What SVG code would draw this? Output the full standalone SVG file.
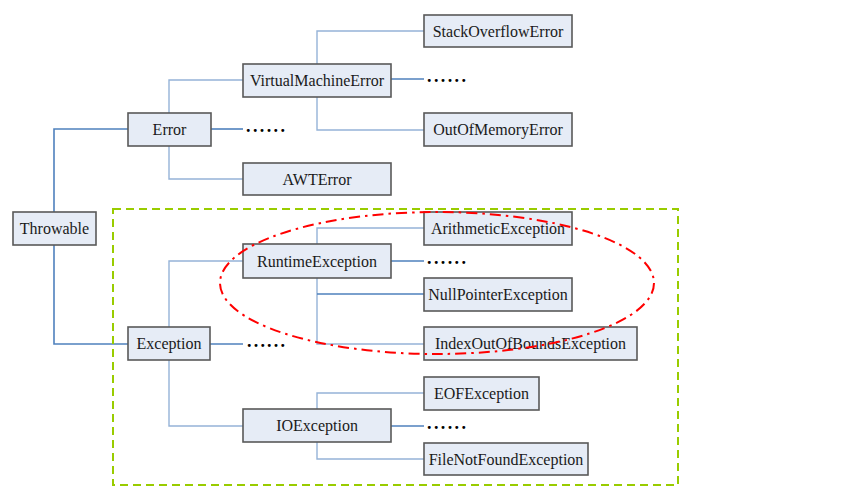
<svg xmlns="http://www.w3.org/2000/svg" width="842" height="490" viewBox="0 0 842 490">
<style>
.box{fill:#e6ecf6;stroke:#595959;stroke-width:1.6}
.t{font-family:"Liberation Serif","Times New Roman",serif;font-size:16px;fill:#1a1a1a;text-anchor:middle}
.d{font-family:"Liberation Serif","Times New Roman",serif;font-size:18px;font-weight:bold;fill:#000}
.lc{fill:none;stroke:#95b3d7;stroke-width:1.4}
.dc{fill:none;stroke:#4f81bd;stroke-width:1.6}
</style>
<rect width="842" height="490" fill="#fff"/>
<g id="connectors">
<path class="dc" d="M54,212 V129 H128 M54,245 V344 H128"/>
<path class="lc" d="M169,113 V80 H243 M169,146 V179 H243"/>
<path class="dc" d="M211,129 H243"/>
<path class="lc" d="M317,64 V31 H424 M317,97 V130 H424"/>
<path class="dc" d="M391,79 H424"/>
<path class="lc" d="M169,327 V261 H243 M169,360 V426 H243"/>
<path class="dc" d="M210,344 H243"/>
<path class="lc" d="M317,244 V228 H424 M317,278 V344 H424"/>
<path class="dc" d="M317,294 H424 M391,261 H424"/>
<path class="lc" d="M317,409 V393 H424 M317,442 V459 H424"/>
<path class="dc" d="M391,426 H424"/>
</g>
<g id="ellipsis-marks">
<text class="d" x="246" y="131.5" textLength="39" lengthAdjust="spacing">......</text>
<text class="d" x="427" y="81.5" textLength="39" lengthAdjust="spacing">......</text>
<text class="d" x="247" y="346.5" textLength="38" lengthAdjust="spacing">......</text>
<text class="d" x="427" y="263.5" textLength="39" lengthAdjust="spacing">......</text>
<text class="d" x="427" y="428.5" textLength="39" lengthAdjust="spacing">......</text>
</g>
<g id="Throwable"><rect class="box" x="13" y="212" width="83" height="33"/><text class="t" x="54.5" y="234">Throwable</text></g>
<g id="Error"><rect class="box" x="128" y="113" width="83" height="33"/><text class="t" x="169.5" y="135">Error</text></g>
<g id="VirtualMachineError"><rect class="box" x="243" y="64" width="148" height="33"/><text class="t" x="317" y="86">VirtualMachineError</text></g>
<g id="AWTError"><rect class="box" x="243" y="163" width="148" height="32"/><text class="t" x="317" y="185">AWTError</text></g>
<g id="StackOverflowError"><rect class="box" x="424" y="15" width="148" height="32"/><text class="t" x="498" y="37">StackOverflowError</text></g>
<g id="OutOfMemoryError"><rect class="box" x="424" y="113" width="148" height="33"/><text class="t" x="498" y="135">OutOfMemoryError</text></g>
<g id="Exception"><rect class="box" x="128" y="327" width="82" height="33"/><text class="t" x="169" y="349">Exception</text></g>
<g id="RuntimeException"><rect class="box" x="243" y="244" width="148" height="34"/><text class="t" x="317" y="266.5">RuntimeException</text></g>
<g id="IOException"><rect class="box" x="243" y="409" width="148" height="33"/><text class="t" x="317" y="431">IOException</text></g>
<g id="ArithmeticException"><rect class="box" x="424" y="212" width="148" height="33"/><text class="t" x="498" y="234">ArithmeticException</text></g>
<g id="NullPointerException"><rect class="box" x="424" y="278" width="148" height="33"/><text class="t" x="498" y="300">NullPointerException</text></g>
<g id="IndexOutOfBoundsException"><rect class="box" x="424" y="327" width="213" height="33"/><text class="t" x="530.5" y="349">IndexOutOfBoundsException</text></g>
<g id="EOFException"><rect class="box" x="424" y="377" width="115" height="33"/><text class="t" x="481.5" y="399">EOFException</text></g>
<g id="FileNotFoundException"><rect class="box" x="424" y="443" width="164" height="32"/><text class="t" x="506" y="465">FileNotFoundException</text></g>
<g id="exception-region"><rect x="113" y="209" width="565" height="276" fill="none" stroke="#99cc00" stroke-width="2" stroke-dasharray="8 5"/></g>
<g id="runtime-highlight"><ellipse cx="437" cy="283" rx="217" ry="71" fill="none" stroke="#ff0000" stroke-width="2" stroke-dasharray="11 5 2.5 5"/></g>
</svg>
